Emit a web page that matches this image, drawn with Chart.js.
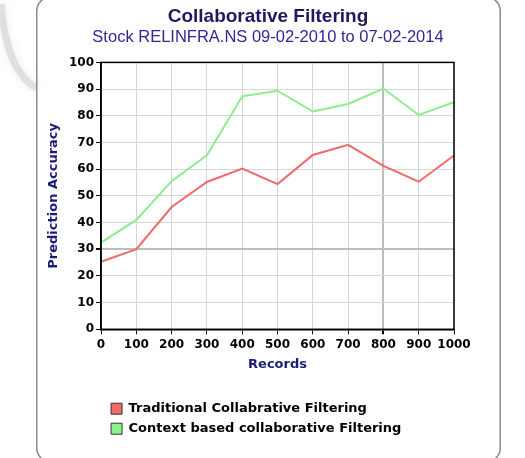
<!DOCTYPE html>
<html>
<head>
<meta charset="utf-8">
<script src="https://cdn.jsdelivr.net/npm/chart.js@4"></script>
<style>
html,body{margin:0;padding:0;background:#fff;}
#wrap{width:525px;height:458px;position:relative;}
</style>
</head>
<body>
<div id="wrap"><canvas id="c" width="525" height="458"></canvas></div>
<script>
const records = ['0','100','200','300','400','500','600','700','800','900','1000'];
const traditional = [25.3, 30, 45.8, 55.2, 60.2, 54.4, 65.3, 69.1, 61.2, 55.3, 65.1];
const contextBased = [32.5, 41, 55.5, 65.2, 87.3, 89.4, 81.6, 84.4, 90.2, 80.3, 85.1];
const seriesNames = ['Traditional Collabrative Filtering', 'Context based collaborative Filtering'];
const titleText = 'Collaborative Filtering';
const subtitleText = 'Stock RELINFRA.NS 09-02-2010 to 07-02-2014';

const bold = {family: 'DejaVu Sans', weight: 'bold'};

const framePlugin = {
  id: 'frame',
  beforeDraw(chart) {
    const ctx = chart.ctx;
    ctx.save();
    ctx.fillStyle = '#fff';
    ctx.fillRect(0, 0, chart.width, chart.height);
    // decorative swoosh
    ctx.strokeStyle = 'rgba(205,205,205,0.55)';
    ctx.lineWidth = 7;
    ctx.shadowColor = 'rgba(190,190,190,0.6)';
    ctx.shadowBlur = 8;
    ctx.beginPath();
    ctx.moveTo(1, 4);
    ctx.quadraticCurveTo(6, 70, 36, 88);
    ctx.stroke();
    ctx.restore();
    ctx.save();
    ctx.strokeStyle = '#8c8c8c';
    ctx.lineWidth = 1.5;
    ctx.beginPath();
    ctx.roundRect(36.75, -3, 463.5, 465, 14);
    ctx.stroke();
    ctx.restore();
  },
  afterLayout(chart) {
    const lg = chart.legend;
    if (lg) { lg.left += 3; lg.right += 3; }
  },
  afterDatasetsDraw(chart) {
    const {ctx, chartArea: a} = chart;
    ctx.save();
    ctx.strokeStyle = '#000';
    ctx.lineWidth = 1.5;
    ctx.strokeRect(a.left, a.top, a.right - a.left, a.bottom - a.top);
    ctx.restore();
  }
};

new Chart(document.getElementById('c'), {
  type: 'line',
  data: {
    labels: records,
    datasets: [
      {label: seriesNames[0], data: traditional, borderColor: '#ee6a6a', backgroundColor: '#f26b6b',
       borderWidth: 2, pointRadius: 0, tension: 0},
      {label: seriesNames[1], data: contextBased, borderColor: '#8aee8a', backgroundColor: '#86f786',
       borderWidth: 2, pointRadius: 0, tension: 0}
    ]
  },
  options: {
    responsive: false,
    animation: false,
    layout: {padding: {left: 40, right: 29, top: 0, bottom: 12.8}},
    scales: {
      x: {
        type: 'category',
        offset: false,
        grid: {
          color: ctx => (ctx.tick && ctx.tick.label === '800') ? '#bdbdbd' : '#d6d6d6',
          lineWidth: ctx => (ctx.tick && ctx.tick.label === '800') ? 2 : 1,
          tickColor: '#000', tickLength: 5
        },
        border: {color: '#000', width: 1.5},
        ticks: {color: '#000', font: {...bold, size: 12}, padding: 3, maxRotation: 0, autoSkip: false},
        title: {display: true, text: 'Records', color: '#1c1a7a', font: {...bold, size: 13},
                padding: {top: 2.5, bottom: 22.4}}
      },
      y: {
        min: 0, max: 100,
        grid: {
          color: ctx => (ctx.tick && ctx.tick.value === 30) ? '#bdbdbd' : '#d6d6d6',
          lineWidth: ctx => (ctx.tick && ctx.tick.value === 30) ? 2 : 1,
          tickColor: '#000', tickLength: 5
        },
        border: {color: '#000', width: 1.5},
        ticks: {stepSize: 10, color: '#000', font: {...bold, size: 12}, padding: 2},
        title: {display: true, text: 'Prediction Accuracy', color: '#1c1a7a', font: {...bold, size: 13},
                padding: {top: 6.2, bottom: 5.2}}
      },
      y2: {
        position: 'right',
        display: true,
        grid: {display: false, drawOnChartArea: false, drawTicks: false},
        border: {display: false},
        ticks: {display: false},
        afterFit: s => { s.width = 42; }
      }
    },
    plugins: {
      title: {display: true, text: titleText, color: '#221860',
              font: {family: 'Liberation Sans', size: 19, weight: 'bold'}, padding: {top: 5, bottom: 0}},
      subtitle: {display: true, text: subtitleText, color: '#3b2296',
                 font: {family: 'Liberation Sans', size: 16.5, weight: 'normal'}, padding: {top: 0, bottom: 14.8}},
      legend: {
        position: 'bottom', align: 'start', fullSize: false,
        labels: {
          color: '#000', font: {...bold, size: 13}, boxWidth: 11, boxHeight: 11, padding: 7,
          generateLabels: chart => Chart.defaults.plugins.legend.labels.generateLabels(chart)
            .map(l => Object.assign(l, {strokeStyle: '#333', lineWidth: 1}))
        }
      },
      tooltip: {enabled: false}
    }
  },
  plugins: [framePlugin]
});
</script>
</body>
</html>
